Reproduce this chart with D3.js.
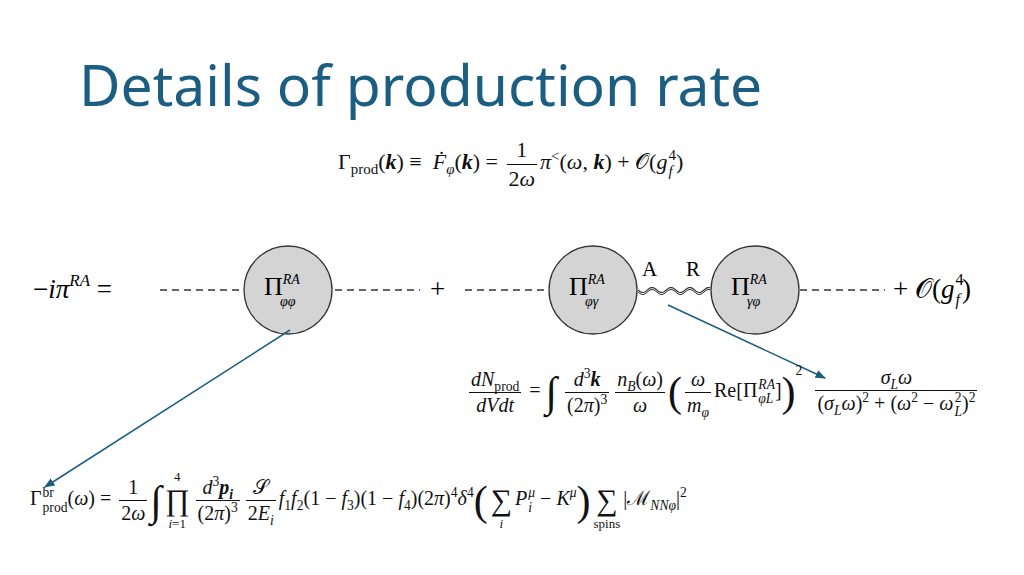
<!DOCTYPE html>
<html><head><meta charset="utf-8">
<script src="https://cdn.jsdelivr.net/npm/d3@7"></script>
<style>
body{margin:0;width:1024px;height:575px;background:#fff;overflow:hidden;position:relative;font-family:"Liberation Serif",serif;}
.eq{position:absolute;white-space:nowrap;color:#111;font-size:19px;line-height:1.2;}
.frac{display:inline-flex;flex-direction:column;align-items:stretch;text-align:center;vertical-align:middle;margin:0 3px;}
.frac>span{padding:0 2px;line-height:1.25;}
.frac>span:first-child{border-bottom:1px solid #111;}
i{font-style:italic}
b{font-weight:bold;font-style:italic}
sub,sup{font-size:68%;line-height:0}
.ss{display:inline-flex;flex-direction:column;vertical-align:middle;font-size:68%;line-height:1.05;margin-left:1px}
.big{font-size:2.1em;line-height:1;font-weight:200;vertical-align:middle}
.op{display:inline-flex;flex-direction:column;align-items:center;vertical-align:middle;margin:0 3px;font-size:13px;line-height:1.1;gap:2px}
.op .s{font-size:30px;line-height:0.95}
</style></head><body>
<script>
// diagram pieces
const lineLabels = ["Π<tspan font-size='14' font-style='italic' dy='-11'>RA</tspan><tspan font-size='14' font-style='italic' dx='-20' dy='22'>φφ</tspan>",
                    "Π<tspan font-size='14' font-style='italic' dy='-11'>RA</tspan><tspan font-size='14' font-style='italic' dx='-20' dy='22'>φγ</tspan>",
                    "Π<tspan font-size='14' font-style='italic' dy='-11'>RA</tspan><tspan font-size='14' font-style='italic' dx='-20' dy='22'>γφ</tspan>"]
const circleX = [288, 593, 755]
const dashSegs = [[160, 245], [335, 420], [465, 550], [800, 885]]
const arrows = [[[290, 330], [45, 487]], [[668, 305], [825, 378]]]
const blue = "#1b5e82"

const ss = (a, b) => `<span class="ss"><span>${a}</span><span>${b}</span></span>`

const svg = d3.select("body").append("svg").attr("width", 1024).attr("height", 575)
  .style("position", "absolute").style("left", 0).style("top", 0)

svg.append("text").attr("x", 79).attr("y", 106).attr("fill", blue)
  .style("font-family", "Noto Sans").style("font-size", "57px").text("Details of production rate")

const rowY = 290
svg.append("defs").append("marker").attr("id", "ah").attr("viewBox", "0 0 10 10")
  .attr("refX", 9).attr("refY", 5).attr("markerWidth", 7).attr("markerHeight", 7).attr("orient", "auto")
  .append("path").attr("d", "M0,1L10,5L0,9z").attr("fill", blue)

svg.selectAll("line.d").data(dashSegs).join("line")
  .attr("x1", d => d[0]).attr("x2", d => d[1]).attr("y1", rowY).attr("y2", rowY)
  .attr("stroke", "#333").attr("stroke-width", 1.3).attr("stroke-dasharray", "7,5")

// wavy photon line
const wave = d3.range(638, 711, 1).map(x => [x, rowY + 2.5 * Math.sin((x - 638) / 3)])
svg.append("path").attr("d", d3.line()(wave)).attr("fill", "none").attr("stroke", "#333").attr("stroke-width", 1.2)
svg.append("path").attr("d", d3.line()(wave.map(p => [p[0], p[1] + 2]))).attr("fill", "none").attr("stroke", "#333").attr("stroke-width", 1)

svg.selectAll("circle").data(circleX).join("circle")
  .attr("cx", d => d).attr("cy", rowY).attr("r", 44)
  .attr("fill", "#d4d4d4").attr("stroke", "#333").attr("stroke-width", 1.3)

svg.selectAll("text.pi").data(circleX).join("text").attr("class", "pi")
  .attr("x", d => d - 24).attr("y", rowY + 5)
  .style("font-family", "Liberation Serif").style("font-size", "26px")
  .html((d, i) => lineLabels[i])

const txt = (x, y, s, size) => svg.append("text").attr("x", x).attr("y", y)
  .style("font-family", "Liberation Serif").style("font-size", (size || 27) + "px").html(s)
txt(33, rowY + 8, "−<tspan font-style='italic'>iπ</tspan><tspan font-size='17' font-style='italic' dy='-12'>RA</tspan><tspan dy='12'> =</tspan>")
txt(430, rowY + 8, "+")
txt(642, rowY - 14, "A", 21)
txt(686, rowY - 14, "R", 21)
txt(893, rowY + 8, "+ 𝒪(<tspan font-style='italic'>g</tspan><tspan font-size='16' dx='1' dy='-13'>4</tspan><tspan font-size='16' font-style='italic' dx='-8' dy='20'>f</tspan><tspan dx='2' dy='-7'>)</tspan>")

svg.selectAll("line.a").data(arrows).join("line")
  .attr("x1", d => d[0][0]).attr("y1", d => d[0][1]).attr("x2", d => d[1][0]).attr("y2", d => d[1][1])
  .attr("stroke", blue).attr("stroke-width", 1.5).attr("marker-end", "url(#ah)")

const eq = (x, y, h, fs) => d3.select("body").append("div").attr("class", "eq")
  .style("left", x + "px").style("top", y + "px").style("font-size", (fs || 19) + "px").html(h)

eq(338, 136, `Γ<sub>prod</sub>(<b>k</b>) ≡ <i>&nbsp;Ḟ</i><sub><i>φ</i></sub>(<b>k</b>) = <span class="frac"><span>1</span><span>2<i>ω</i></span></span><i>π</i><sup>&lt;</sup>(<i>ω</i>, <b>k</b>) + 𝒪(<i>g</i>${ss("4", "<i>f</i>")})`, 22)

eq(466, 365, `<span class="frac"><span><i>dN</i><sub>prod</sub></span><span><i>dVdt</i></span></span> = <span class="big">∫</span> <span class="frac"><span><i>d</i><sup>3</sup><b>k</b></span><span>(2<i>π</i>)<sup>3</sup></span></span><span class="frac"><span><i>n<sub>B</sub></i>(<i>ω</i>)</span><span><i>ω</i></span></span><span class="big">(</span><span class="frac"><span><i>ω</i></span><span><i>m<sub>φ</sub></i></span></span>Re[Π${ss("<i>RA</i>", "<i>φL</i>")}]<span class="big">)</span><sup style="vertical-align:22px">2</sup>&nbsp;&nbsp;<span class="frac"><span><i>σ<sub>L</sub>ω</i></span><span>(<i>σ<sub>L</sub>ω</i>)<sup>2</sup> + (<i>ω</i><sup>2</sup> − <i>ω</i>${ss("2", "<i>L</i>")})<sup>2</sup></span></span>`, 20)

eq(30, 470, `Γ${ss("br", "prod")}(<i>ω</i>) = <span class="frac"><span>1</span><span>2<i>ω</i></span></span><span class="big">∫</span><span class="op"><span>4</span><span class="s">∏</span><span><i>i</i>=1</span></span><span class="frac"><span><i>d</i><sup>3</sup><b>p<sub>i</sub></b></span><span>(2<i>π</i>)<sup>3</sup></span></span><span class="frac"><span>𝒮</span><span>2<i>E<sub>i</sub></i></span></span><i>f</i><sub>1</sub><i>f</i><sub>2</sub>(1 − <i>f</i><sub>3</sub>)(1 − <i>f</i><sub>4</sub>)(2<i>π</i>)<sup>4</sup><i>δ</i><sup>4</sup><span class="big">(</span><span class="op"><span>&nbsp;</span><span class="s">∑</span><span><i>i</i></span></span><i>P</i>${ss("<i>μ</i>", "<i>i</i>")}&nbsp;− <i>K<sup>μ</sup></i><span class="big">)</span><span class="op"><span>&nbsp;</span><span class="s">∑</span><span>spins</span></span>|ℳ<sub><i>NNφ</i></sub>|<sup>2</sup>`, 20)
</script>
</body></html>
